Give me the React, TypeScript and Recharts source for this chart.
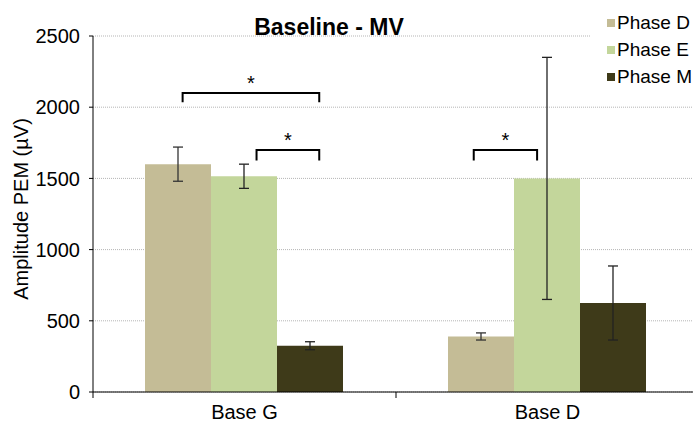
import React from 'react';
import {
  BarChart,
  Bar,
  XAxis,
  YAxis,
  CartesianGrid,
  Legend,
  ErrorBar,
} from 'recharts';

// values
const categories = ['Base G', 'Base D'];
const phaseD = [1600, 390];
const phaseDErr = [120, 25];
const phaseE = [1515, 1500];
const phaseEErr = [85, 850];
const phaseM = [325, 625];
const phaseMErr = [28, 260];
const yTicks = [0, 500, 1000, 1500, 2000, 2500];

const series = [
  { key: 'phaseD', name: 'Phase D', color: '#c4bc96' },
  { key: 'phaseE', name: 'Phase E', color: '#c3d69b' },
  { key: 'phaseM', name: 'Phase M', color: '#3e3a19' },
];

// significance brackets: category index, span in bar widths from group start, levels in data units
const brackets = [
  { cat: 0, from: 0.57, to: 2.64, top: 2100, leg: 2035 },
  { cat: 0, from: 1.69, to: 2.64, top: 1700, leg: 1625 },
  { cat: 1, from: 0.39, to: 1.35, top: 1700, leg: 1625 },
];

const data = categories.map((name, i) => ({
  name,
  phaseD: phaseD[i],
  phaseDErr: phaseDErr[i],
  phaseE: phaseE[i],
  phaseEErr: phaseEErr[i],
  phaseM: phaseM[i],
  phaseMErr: phaseMErr[i],
}));

const FONT = '"Liberation Sans", Arial, sans-serif';

// drawn from the first bar of each group, using its pixel box to get the scale
const renderBrackets = (props: any) => {
  const vb = props.viewBox ?? props;
  const { x, y, width, height } = vb;
  const value = Number(props.value);
  const index = props.index;
  if (!height || !value) return null;
  const k = height / value;
  const base = y + height;
  const py = (v: number) => base - v * k;
  return (
    <g>
      {brackets
        .filter((b) => b.cat === index)
        .map((b, j) => {
          const x1 = x + b.from * width;
          const x2 = x + b.to * width;
          const yt = py(b.top);
          const yl = py(b.leg);
          return (
            <g key={j}>
              <path
                d={`M${x1},${yl}V${yt}H${x2}V${yl}`}
                fill='none'
                stroke='#000'
                strokeWidth={2}
              />
              <text
                x={(x1 + x2) / 2}
                y={yt - 3}
                textAnchor='middle'
                fontSize={20}
                fontFamily={FONT}
                fill='#000'
              >
                *
              </text>
            </g>
          );
        })}
    </g>
  );
};

const XTick = (props: any) => {
  const { x, y, payload, width, visibleTicksCount, index } = props;
  const band = width && visibleTicksCount ? width / visibleTicksCount : 303;
  const left = x - band / 2;
  return (
    <g>
      <line x1={left} y1={y - 6} x2={left} y2={y} stroke='#000' />
      {index === visibleTicksCount - 1 && (
        <line x1={left + band} y1={y - 6} x2={left + band} y2={y} stroke='#000' />
      )}
      <text
        x={x}
        y={y + 21}
        textAnchor='middle'
        fontSize={20}
        fontFamily={FONT}
        fill='#000'
      >
        {payload.value}
      </text>
    </g>
  );
};

const renderYLabel = (props: any) => {
  const vb = props.viewBox;
  const cx = vb.x + 21;
  const cy = vb.y + vb.height / 2 - 5;
  return (
    <text
      x={cx}
      y={cy}
      transform={`rotate(-90 ${cx} ${cy})`}
      textAnchor='middle'
      dominantBaseline='central'
      fontSize={20}
      fontFamily={FONT}
      fill='#000'
    >
      Amplitude PEM (µV)
    </text>
  );
};

const LegendBox = () => (
  <div style={{ background: '#fff', paddingTop: 9, paddingLeft: 17 }}>
    {series.map((s) => (
      <div
        key={s.key}
        style={{
          display: 'flex',
          alignItems: 'center',
          height: 27,
          fontSize: 19,
          fontFamily: FONT,
          color: '#000',
          whiteSpace: 'nowrap',
        }}
      >
        <span
          style={{
            display: 'inline-block',
            width: 8,
            height: 8,
            background: s.color,
            marginRight: 2,
          }}
        />
        {s.name}
      </div>
    ))}
  </div>
);

export default function App() {
  return (
    <div
      style={{
        position: 'fixed',
        left: 0,
        top: 0,
        width: 693,
        height: 423,
        overflow: 'hidden',
        background: '#fff',
        fontFamily: FONT,
      }}
    >
      <BarChart
        width={699}
        height={423}
        data={data}
        margin={{ top: 36, right: 0, bottom: 1, left: 0 }}
        barCategoryGap={52}
        barGap={0}
      >
        <CartesianGrid vertical={false} stroke='#b5b5b5' strokeDasharray='1 1' />
        <XAxis
          dataKey='name'
          height={30}
          axisLine={{ stroke: '#000' }}
          tickLine={false}
          tickSize={6}
          tickMargin={0}
          tick={<XTick />}
          interval={0}
        />
        <YAxis
          width={93}
          domain={[0, 2500]}
          ticks={yTicks}
          allowDataOverflow
          axisLine={{ stroke: '#000' }}
          tickLine={{ stroke: '#000' }}
          tickSize={4}
          tickMargin={9}
          tick={{ fontSize: 20, fill: '#000', fontFamily: FONT }}
          label={renderYLabel}
        />
        <Legend
          layout='horizontal'
          verticalAlign='middle'
          align='center'
          wrapperStyle={{ left: 590, top: 0, width: 110 }}
          content={<LegendBox />}
        />
        <Bar dataKey='phaseD' name='Phase D' fill='#c4bc96' isAnimationActive={false} label={renderBrackets}>
          <ErrorBar dataKey='phaseDErr' width={5} stroke='#333' strokeWidth={1.3} isAnimationActive={false} />
        </Bar>
        <Bar dataKey='phaseE' name='Phase E' fill='#c3d69b' isAnimationActive={false}>
          <ErrorBar dataKey='phaseEErr' width={5} stroke='#222' strokeWidth={1.3} isAnimationActive={false} />
        </Bar>
        <Bar dataKey='phaseM' name='Phase M' fill='#3e3a19' isAnimationActive={false}>
          <ErrorBar dataKey='phaseMErr' width={5} stroke='#222' strokeWidth={1.3} isAnimationActive={false} />
        </Bar>
      </BarChart>
      <div
        style={{
          position: 'absolute',
          left: 229,
          top: 16,
          width: 200,
          textAlign: 'center',
          fontSize: 23,
          lineHeight: '23px',
          fontWeight: 'bold',
          fontFamily: FONT,
          color: '#000',
        }}
      >
        Baseline - MV
      </div>
    </div>
  );
}
